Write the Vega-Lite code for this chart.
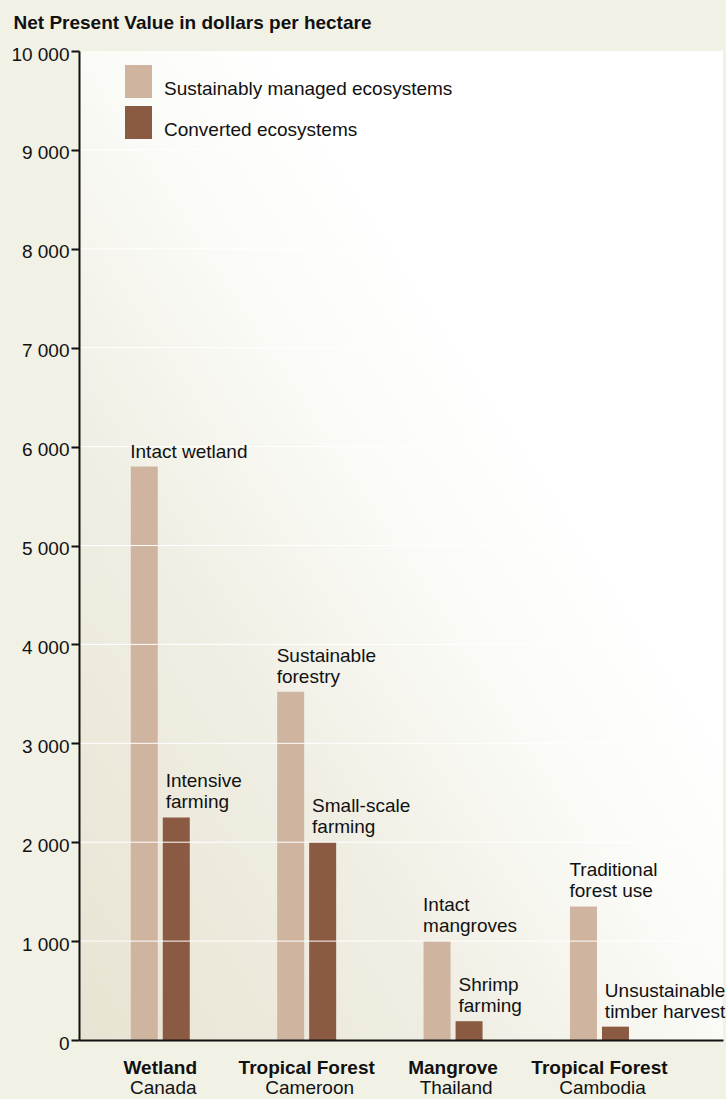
{
  "$schema": "https://vega.github.io/schema/vega-lite/v6.json",
  "autosize": {"type": "none"},
  "width": 644,
  "height": 989,
  "padding": {"left": 79, "top": 51, "right": 3, "bottom": 59},
  "background": "#f2f1e6",
  "data": {
    "values": [
      {"group": "Wetland|Canada", "country": "Canada", "series": "Sustainably managed ecosystems", "value": 5800, "label": "Intact wetland"},
      {"group": "Wetland|Canada", "country": "Canada", "series": "Converted ecosystems", "value": 2250, "label": "Intensive\nfarming"},
      {"group": "Tropical Forest|Cameroon", "country": "Cameroon", "series": "Sustainably managed ecosystems", "value": 3520, "label": "Sustainable\nforestry"},
      {"group": "Tropical Forest|Cameroon", "country": "Cameroon", "series": "Converted ecosystems", "value": 2000, "label": "Small-scale\nfarming"},
      {"group": "Mangrove|Thailand", "country": "Thailand", "series": "Sustainably managed ecosystems", "value": 1000, "label": "Intact\nmangroves"},
      {"group": "Mangrove|Thailand", "country": "Thailand", "series": "Converted ecosystems", "value": 190, "label": "Shrimp\nfarming"},
      {"group": "Tropical Forest|Cambodia", "country": "Cambodia", "series": "Sustainably managed ecosystems", "value": 1350, "label": "Traditional\nforest use"},
      {"group": "Tropical Forest|Cambodia", "country": "Cambodia", "series": "Converted ecosystems", "value": 135, "label": "Unsustainable\ntimber harvest"}
    ]
  },
  "encoding": {
    "y": {
      "field": "value",
      "type": "quantitative",
      "scale": {"domain": [0, 10000], "nice": false},
      "axis": {
        "title": "Net Present Value in dollars per hectare",
        "titleAngle": 0,
        "titleX": -66,
        "titleY": -23,
        "titleAlign": "left",
        "titleBaseline": "alphabetic",
        "titleFontSize": 19,
        "titleFontWeight": "bold",
        "titleColor": "#111111",
        "values": [0, 1000, 2000, 3000, 4000, 5000, 6000, 7000, 8000, 9000, 10000],
        "labelExpr": "replace(format(datum.value, ','), ',', ' ')",
        "labelFontSize": 19,
        "labelColor": "#111111",
        "labelBaseline": "alphabetic",
        "labelOffset": 9,
        "labelPadding": 2,
        "tickSize": 8,
        "tickWidth": 2,
        "tickColor": "#111111",
        "domainColor": "#111111",
        "domainWidth": 2,
        "grid": false,
        "zindex": 1
      }
    }
  },
  "layer": [
    {
      "mark": {"type": "bar"},
      "encoding": {
        "x": {
          "field": "group",
          "type": "nominal",
          "sort": null,
          "scale": {"paddingInner": 0.5765, "paddingOuter": 0.4877, "align": 0.352},
          "axis": {
            "title": null,
            "labelExpr": "split(datum.label, '|')[0]",
            "labelAngle": 0,
            "labelFontWeight": "bold",
            "labelFontSize": 19,
            "labelColor": "#111111",
            "labelBaseline": "alphabetic",
            "labelPadding": 33,
            "ticks": false,
            "domainColor": "#111111",
            "domainWidth": 2,
            "grid": false,
            "zindex": 1
          }
        },
        "xOffset": {
          "field": "series",
          "type": "nominal",
          "scale": {"domain": ["Sustainably managed ecosystems", "Converted ecosystems"], "paddingInner": 0.156, "paddingOuter": 0.047}
        },
        "color": {
          "field": "series",
          "type": "nominal",
          "scale": {"domain": ["Sustainably managed ecosystems", "Converted ecosystems"], "range": ["#cfb4a0", "#8b5a43"]},
          "legend": {
            "title": null,
            "orient": "none",
            "legendX": 46,
            "legendY": 24,
            "padding": 0,
            "symbolType": "M-1,-1.741H1V0.704H-1Z",
            "symbolSize": 729,
            "symbolStrokeWidth": 0,
            "symbolOpacity": 1,
            "labelFontSize": 19,
            "labelColor": "#111111",
            "labelBaseline": "middle",
            "labelOffset": 12,
            "rowPadding": 6,
            "labelLimit": 400
          }
        }
      }
    },
    {
      "data": {"values": [{"tick": 1000}, {"tick": 2000}, {"tick": 3000}, {"tick": 4000}, {"tick": 5000}, {"tick": 6000}, {"tick": 7000}, {"tick": 8000}, {"tick": 9000}]},
      "mark": {"type": "rule", "color": "#ffffff", "strokeWidth": 1},
      "encoding": {
        "y": {"field": "tick", "type": "quantitative"}
      }
    },
    {
      "transform": [{"filter": "datum.series === 'Sustainably managed ecosystems' && indexof(datum.label, '\\n') < 0"}],
      "mark": {"type": "text", "align": "left", "baseline": "alphabetic", "dx": -14, "dy": -8, "fontSize": 19, "lineHeight": 21, "lineBreak": "\n", "color": "#111111"},
      "encoding": {
        "x": {"field": "group", "type": "nominal", "sort": null},
        "xOffset": {"field": "series", "type": "nominal"},
        "text": {"field": "label"}
      }
    },
    {
      "transform": [{"filter": "datum.series === 'Sustainably managed ecosystems' && indexof(datum.label, '\\n') >= 0"}],
      "mark": {"type": "text", "align": "left", "baseline": "alphabetic", "dx": -14, "dy": -30, "fontSize": 19, "lineHeight": 21, "lineBreak": "\n", "color": "#111111"},
      "encoding": {
        "x": {"field": "group", "type": "nominal", "sort": null},
        "xOffset": {"field": "series", "type": "nominal"},
        "text": {"field": "label"}
      }
    },
    {
      "transform": [{"filter": "datum.series === 'Converted ecosystems'"}],
      "mark": {"type": "text", "align": "left", "baseline": "alphabetic", "dx": -10.6, "dy": -30, "fontSize": 19, "lineHeight": 21, "lineBreak": "\n", "color": "#111111"},
      "encoding": {
        "x": {"field": "group", "type": "nominal", "sort": null},
        "xOffset": {"field": "series", "type": "nominal"},
        "text": {"field": "label"}
      }
    },
    {
      "transform": [{"filter": "datum.series === 'Sustainably managed ecosystems'"}],
      "mark": {"type": "text", "align": "center", "baseline": "alphabetic", "dx": 3, "dy": 54, "fontSize": 19, "color": "#111111"},
      "encoding": {
        "x": {"field": "group", "type": "nominal", "sort": null},
        "y": {"datum": 0},
        "text": {"field": "country"}
      }
    }
  ],
  "config": {
    "font": "Liberation Sans",
    "view": {
      "stroke": null,
      "fill": {
        "gradient": "linear",
        "x1": 0, "y1": 1, "x2": 1, "y2": 0,
        "stops": [
          {"offset": 0, "color": "#e8e4d3"},
          {"offset": 0.3, "color": "#f0eee3"},
          {"offset": 0.5, "color": "#fafaf6"},
          {"offset": 0.65, "color": "#ffffff"}
        ]
      }
    }
  }
}
